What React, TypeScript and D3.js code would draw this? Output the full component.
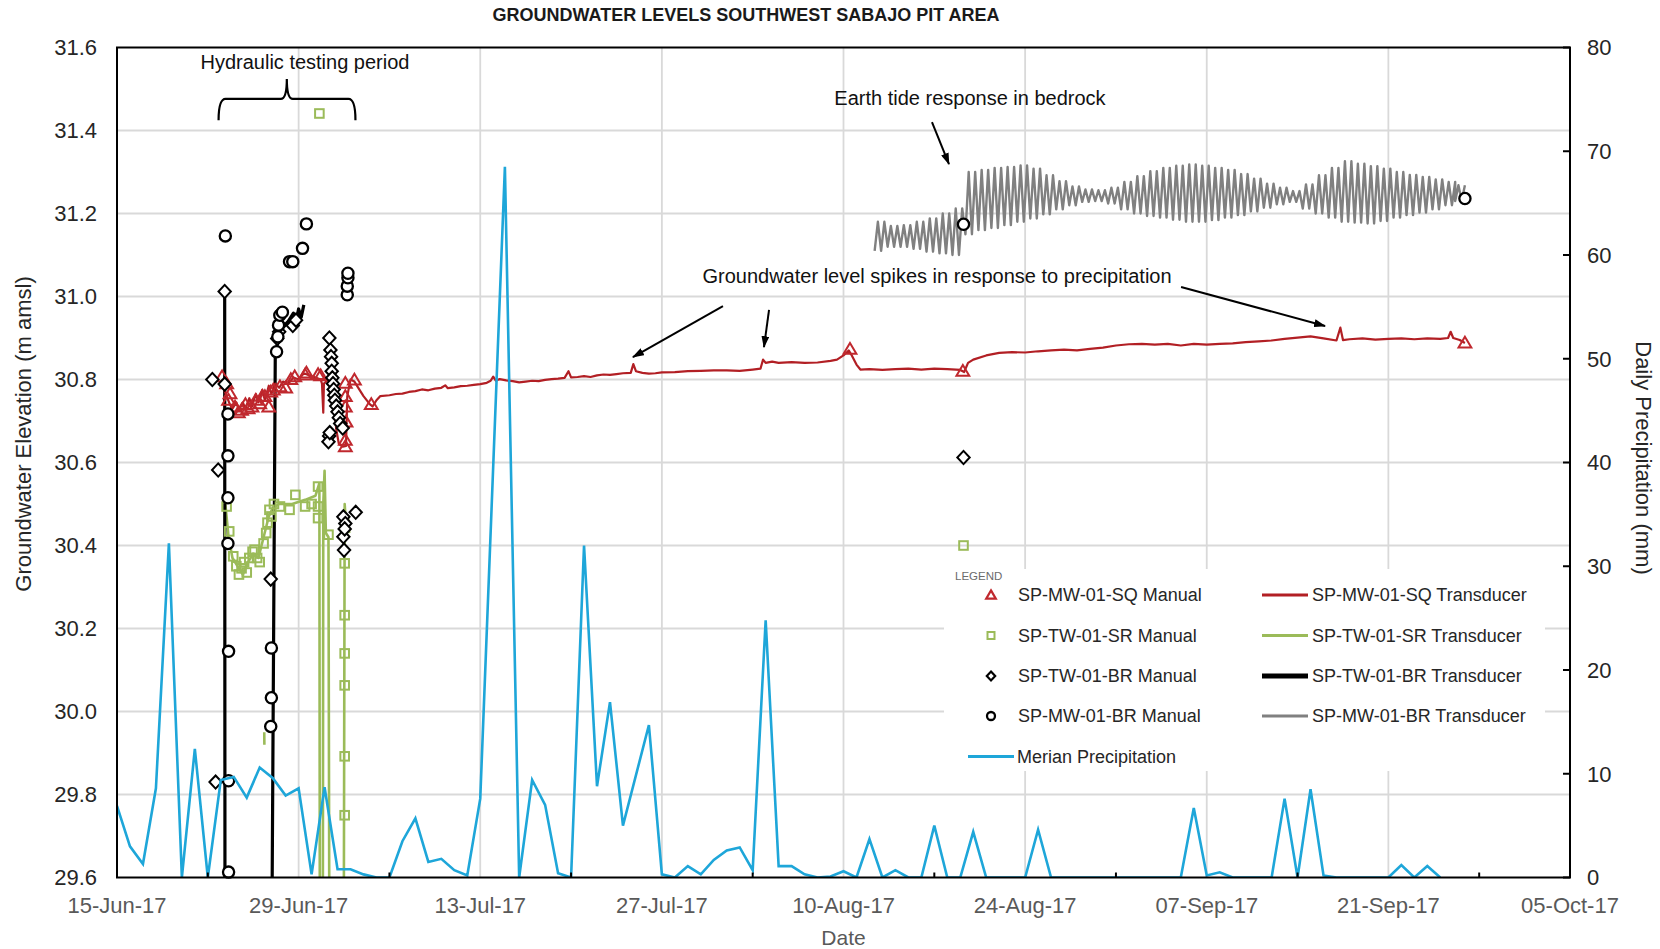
import React from "react";
import * as d3 from "d3";

const W = 1660;
const H = 949;
const M = { left: 117, right: 1570, top: 47.5, bottom: 877.5 };
const FONT = "'Liberation Sans', Arial, Helvetica, sans-serif";

const START = Date.UTC(2017, 5, 15);
const dt = (d: number) => new Date(START + d * 86400000);

// ---- axis / tick data ----
const dateTickLabels = ["15-Jun-17", "29-Jun-17", "13-Jul-17", "27-Jul-17", "10-Aug-17", "24-Aug-17", "07-Sep-17", "21-Sep-17", "05-Oct-17"];
const dateTickDays = [0, 14, 28, 42, 56, 70, 84, 98, 112];
const minorTickDays = [7, 21, 35, 49, 63, 77, 91, 105];
const leftTicks = [29.6, 29.8, 30.0, 30.2, 30.4, 30.6, 30.8, 31.0, 31.2, 31.4, 31.6];
const rightTicks = [0, 10, 20, 30, 40, 50, 60, 70, 80];

// ---- series (day offset from 15-Jun-17, value) ----
const precipitation: [number, number][] = [
  [0, 6.9], [1, 3.0], [2, 1.3], [3, 8.6], [4, 32.2], [5, 0], [6, 12.4], [7, 0], [8, 9.4], [9, 9.7],
  [10, 7.7], [11, 10.6], [12, 9.6], [13, 7.9], [14, 8.6], [15, 0.3], [16, 8.7], [17, 0.8], [18, 0.8], [19, 0.3],
  [20, 0], [21, 0], [22, 3.5], [23, 5.7], [24, 1.5], [25, 1.8], [26, 0.7], [27, 0.2], [28, 7.6], [29.9, 68.5],
  [31, 0], [32, 9.4], [33, 7.0], [34, 0.4], [35, 0], [36, 32.0], [37, 8.8], [38, 16.9], [39, 5.0], [41, 14.7],
  [42, 0.3], [43, 0], [44, 1.1], [45, 0.3], [46, 1.7], [47, 2.6], [48, 2.9], [49, 0.7], [50, 24.8], [51, 1.1],
  [52, 1.1], [53, 0.3], [54, 0], [55, 0.1], [56, 0.6], [57, 0], [58, 3.7], [59, 0], [60, 0.7], [61, 0],
  [62, 0], [63, 5.0], [64, 0], [65, 0], [66, 4.4], [67, 0], [68, 0], [69, 0], [70, 0], [71, 4.6],
  [72, 0], [73, 0], [74, 0], [75, 0], [76, 0], [77, 0], [78, 0], [79, 0], [80, 0], [81, 0],
  [82, 0], [83, 6.7], [84, 0.2], [85, 0.5], [86, 0], [87, 0], [88, 0], [89, 0], [90, 7.6], [91, 0],
  [92, 8.5], [93, 0.2], [94, 0], [95, 0], [96, 0], [97, 0], [98, 0], [99, 1.2], [100, 0], [101, 1.1], [102, 0],
];

const sqTransducer: [number, number][] = [
  [8.1, 30.8], [8.2, 30.78], [8.45, 30.76], [8.7, 30.74], [8.9, 30.73], [9.2, 30.745], [9.4, 30.725], [9.7, 30.745],
  [9.9, 30.73], [10.2, 30.755], [10.4, 30.735], [10.7, 30.765], [10.9, 30.745], [11.2, 30.775], [11.4, 30.75],
  [11.7, 30.785], [11.9, 30.765], [12.2, 30.79], [12.5, 30.78], [12.8, 30.795], [13.2, 30.79], [13.6, 30.805],
  [14.0, 30.8], [14.4, 30.815], [14.8, 30.81], [15.3, 30.805], [15.7, 30.8], [15.8, 30.79], [15.9, 30.72],
  [15.95, 30.79], [16.3, 30.8], [16.5, 30.795], [16.7, 30.75], [16.9, 30.68], [17.1, 30.645], [17.4, 30.638],
  [17.65, 30.64], [17.75, 30.76], [18.0, 30.8], [18.3, 30.795], [18.6, 30.78], [19.0, 30.76], [19.5, 30.74],
  [19.7, 30.735], [20.0, 30.75], [20.3, 30.76], [21, 30.762], [21.5, 30.765], [22, 30.766], [22.5, 30.77],
  [23, 30.772], [23.5, 30.776], [24, 30.774], [24.5, 30.778], [25, 30.78], [25.3, 30.786], [25.5, 30.779],
  [26, 30.781], [26.5, 30.784], [27, 30.785], [27.5, 30.787], [28, 30.789], [28.5, 30.792], [28.8, 30.797],
  [29.0, 30.807], [29.2, 30.797], [29.5, 30.801], [30, 30.798], [30.5, 30.796], [31, 30.793], [31.5, 30.795],
  [32, 30.797], [32.5, 30.796], [33, 30.799], [33.5, 30.801], [34, 30.802], [34.5, 30.804], [34.8, 30.82],
  [35, 30.805], [35.5, 30.806], [36, 30.808], [36.5, 30.806], [37, 30.81], [37.5, 30.812], [38, 30.811],
  [38.5, 30.813], [39, 30.815], [39.6, 30.816], [39.8, 30.837], [40.0, 30.82], [40.5, 30.816], [41, 30.814],
  [41.5, 30.815], [42, 30.817], [43, 30.818], [44, 30.82], [45, 30.821], [46, 30.822], [47, 30.822],
  [48, 30.821], [49, 30.824], [49.6, 30.826], [49.8, 30.848], [50, 30.84], [50.5, 30.843], [51, 30.84],
  [52, 30.842], [53, 30.84], [54, 30.841], [55, 30.845], [55.5, 30.848], [56, 30.858], [56.4, 30.87],
  [56.6, 30.86], [57, 30.836], [57.3, 30.824], [58, 30.825], [59, 30.823], [60, 30.825], [61, 30.826],
  [62, 30.824], [63, 30.826], [64, 30.825], [65, 30.823], [65.3, 30.818], [65.6, 30.84], [66, 30.848],
  [67, 30.858], [68, 30.864], [69, 30.866], [70, 30.865], [71, 30.868], [72, 30.87], [73, 30.872], [74, 30.87],
  [75, 30.874], [76, 30.877], [77, 30.882], [78, 30.885], [79, 30.886], [80, 30.884], [81, 30.886],
  [82, 30.882], [83, 30.886], [84, 30.884], [85, 30.886], [86, 30.887], [87, 30.89], [88, 30.892],
  [89, 30.894], [90, 30.898], [91, 30.901], [92, 30.904], [93, 30.899], [94, 30.894], [94.3, 30.925],
  [94.5, 30.895], [95, 30.897], [96, 30.899], [97, 30.896], [98, 30.898], [99, 30.899], [100, 30.897],
  [101, 30.899], [102, 30.898], [102.6, 30.9], [102.8, 30.915], [103, 30.9], [103.5, 30.895], [103.9, 30.888],
];

// NaN entries break the line; values below 29.6 are off the chart (clipped)
const srTransducer: [number, number][] = [
  [8.35, 30.5], [8.6, 30.42], [8.9, 30.37], [9.3, 30.35], [9.7, 30.33], [10.1, 30.36], [10.5, 30.38],
  [10.9, 30.37], [11.3, 30.42], [11.7, 30.47], [12.0, 30.49], [12.5, 30.5], [13.5, 30.5], [14.5, 30.51],
  [15.3, 30.52], [15.6, 30.55], [15.65, 29.0], [15.85, 29.0], [15.9, 30.5], [16.0, 30.58], [16.1, 30.43],
  [16.3, 30.42], [16.4, 29.0], [17.45, 29.0], [17.55, 30.5], [17.65, 30.45], [17.8, 30.47], [17.9, 30.43],
  [NaN, NaN], [11.35, 29.95], [11.36, 29.92],
];

const twBrTransducer: [number, number][] = [
  [8.3, 31.01], [8.33, 29.0], [11.85, 29.0], [12.2, 30.86], [12.6, 30.92], [13.2, 30.94], [13.6, 30.96],
  [13.8, 30.94], [14.0, 30.97], [14.2, 30.95], [14.4, 30.98],
];

// earth-tide envelope: [day, daily high, daily low]
const mwBrTide: [number, number, number][] = [
  [58.4, 31.18, 31.11], [59.4, 31.17, 31.12], [60.4, 31.172, 31.12], [61.4, 31.18, 31.115], [62.4, 31.188, 31.108],
  [63.4, 31.2, 31.104], [64.4, 31.212, 31.1], [65.4, 31.3, 31.15], [66.4, 31.305, 31.16], [67.4, 31.31, 31.165],
  [68.4, 31.312, 31.172], [69.4, 31.316, 31.18], [70.4, 31.308, 31.188], [71.4, 31.292, 31.198], [72.4, 31.278, 31.21],
  [73.4, 31.265, 31.22], [74.4, 31.258, 31.228], [75.4, 31.256, 31.23], [76.4, 31.262, 31.224], [77.4, 31.276, 31.21],
  [78.4, 31.29, 31.2], [79.4, 31.302, 31.194], [80.4, 31.31, 31.19], [81.4, 31.315, 31.185], [82.4, 31.318, 31.18],
  [83.4, 31.315, 31.18], [84.4, 31.31, 31.184], [85.4, 31.305, 31.19], [86.4, 31.295, 31.196], [87.4, 31.284, 31.205],
  [88.4, 31.272, 31.214], [89.4, 31.262, 31.222], [90.4, 31.254, 31.228], [91.4, 31.27, 31.212], [92.4, 31.292, 31.2],
  [93.4, 31.31, 31.19], [94.4, 31.326, 31.18], [95.4, 31.32, 31.178], [96.4, 31.314, 31.176], [97.4, 31.308, 31.182],
  [98.4, 31.3, 31.19], [99.4, 31.293, 31.196], [100.4, 31.288, 31.202], [101.4, 31.282, 31.21], [102.4, 31.276, 31.22],
  [103.15, 31.268, 31.23],
];

const sqManual: [number, number][] = [
  [8.1, 30.807], [8.45, 30.79], [8.6, 30.75], [8.71, 30.766], [9.1, 30.734], [9.35, 30.72], [9.6, 30.726],
  [9.9, 30.74], [10.1, 30.73], [10.4, 30.734], [10.7, 30.75], [11.0, 30.742], [11.2, 30.76], [11.4, 30.759],
  [11.7, 30.734], [11.85, 30.77], [12.05, 30.775], [12.56, 30.783], [13.0, 30.78], [13.4, 30.8], [13.7, 30.807],
  [14.5, 30.811], [14.6, 30.816], [15.5, 30.812], [15.7, 30.809], [17.6, 30.791], [17.6, 30.759], [17.6, 30.734],
  [17.65, 30.698], [17.6, 30.654], [17.6, 30.638], [18.3, 30.799], [19.6, 30.74], [56.5, 30.873], [65.2, 30.82],
  [103.9, 30.888],
];

const srManual: [number, number][] = [
  [8.45, 30.494], [8.65, 30.434], [8.96, 30.374], [9.2, 30.35], [9.4, 30.33], [9.6, 30.345], [9.8, 30.36],
  [10.0, 30.335], [10.2, 30.37], [10.45, 30.385], [10.6, 30.39], [10.8, 30.37], [11.0, 30.36], [11.3, 30.405],
  [11.5, 30.43], [11.6, 30.455], [11.75, 30.486], [11.9, 30.47], [12.1, 30.5], [12.56, 30.494], [13.3, 30.486],
  [13.75, 30.522], [14.5, 30.494], [15.0, 30.5], [15.5, 30.542], [15.5, 30.494], [15.5, 30.466], [15.6, 31.441],
  [16.3, 30.426], [17.55, 30.357], [17.55, 30.232], [17.55, 30.14], [17.55, 30.063], [17.55, 29.892],
  [17.55, 29.75], [65.25, 30.4],
];

const twBrManual: [number, number][] = [
  [7.35, 30.8], [8.3, 31.012], [8.3, 30.789], [7.8, 30.582], [7.6, 29.83], [11.85, 30.319], [12.35, 30.899],
  [12.5, 30.915], [12.55, 30.931], [13.55, 30.93], [13.8, 30.943], [16.37, 30.9], [16.45, 30.871], [16.5, 30.855],
  [16.55, 30.839], [16.55, 30.82], [16.6, 30.804], [16.65, 30.79], [16.7, 30.776], [16.75, 30.762], [16.8, 30.75],
  [16.9, 30.736], [17.0, 30.722], [17.1, 30.708], [17.2, 30.694], [17.4, 30.683], [16.35, 30.664], [16.3, 30.65],
  [16.4, 30.672], [17.45, 30.469], [17.6, 30.453], [18.4, 30.48], [17.45, 30.421], [17.5, 30.389], [17.55, 30.44],
  [65.25, 30.612],
];

const mwBrManual: [number, number][] = [
  [8.35, 31.146], [8.55, 30.717], [8.55, 30.616], [8.55, 30.515], [8.55, 30.405], [8.6, 30.145], [8.6, 29.833],
  [8.6, 29.613], [11.9, 30.153], [11.9, 30.033], [11.85, 29.964], [12.3, 30.867], [12.4, 30.903], [12.45, 30.931],
  [12.55, 30.955], [12.75, 30.962], [13.3, 31.084], [13.55, 31.084], [14.3, 31.116], [14.6, 31.175],
  [17.75, 31.004], [17.75, 31.025], [17.8, 31.045], [17.8, 31.056], [65.25, 31.174], [103.9, 31.236],
];

const legendManual = ["SP-MW-01-SQ Manual", "SP-TW-01-SR Manual", "SP-TW-01-BR Manual", "SP-MW-01-BR Manual"];
const legendTransducer = ["SP-MW-01-SQ Transducer", "SP-TW-01-SR Transducer", "SP-TW-01-BR Transducer", "SP-MW-01-BR Transducer"];

const C = {
  sq: "#b21f24",
  sqMark: "#c0282e",
  sr: "#9bbb59",
  tw: "#000000",
  mw: "#808080",
  pr: "#1ea6d9",
  grid: "#d9d9d9",
};

const TRI = "M0,-6.2 L6.4,4.6 L-6.4,4.6 Z";
const DIA = "M0,-6.6 L6.2,0 L0,6.6 L-6.2,0 Z";

export default function App() {
  const x = d3.scaleUtc().domain([dt(0), dt(112)]).range([M.left, M.right]);
  const y = d3.scaleLinear().domain([29.6, 31.6]).range([M.bottom, M.top]);
  const y2 = d3.scaleLinear().domain([0, 80]).range([M.bottom, M.top]);
  const X = (d: number) => x(dt(d));

  const gwLine = d3
    .line<[number, number]>()
    .defined((p) => !isNaN(p[1]))
    .x((p) => X(p[0]))
    .y((p) => y(p[1]));
  const prLine = d3
    .line<[number, number]>()
    .x((p) => X(p[0]))
    .y((p) => y2(p[1]));

  const tidePts: [number, number][] = [];
  mwBrTide.forEach(([d, hi, lo]) => {
    tidePts.push([d, lo], [d + 0.25, hi], [d + 0.5, lo], [d + 0.75, hi]);
  });

  // annotations in data space
  const bx0 = X(7.83), bx1 = X(18.38), bxc = X(13.09);
  const byTop = y(31.476), byEnd = y(31.425), byPeak = y(31.524);
  const brace = `M${bx0},${byEnd} Q${bx0},${byTop} ${bx0 + 7},${byTop} L${bxc - 6},${byTop} Q${bxc},${byTop} ${bxc},${byPeak} Q${bxc},${byTop} ${bxc + 6},${byTop} L${bx1 - 7},${byTop} Q${bx1},${byTop} ${bx1},${byEnd}`;

  const arrows: [number, number, number, number][] = [
    [62.82, 31.42, 64.13, 31.319],
    [46.71, 30.977, 39.77, 30.854],
    [50.26, 30.968, 49.87, 30.878],
    [82.02, 31.023, 93.12, 30.929],
  ];

  const LG = { x0: 944, y0: 569, x1: 1545, y1: 771 };
  const rowY = [595, 635.5, 676, 716, 756.5];

  return (
    <svg
      width={W}
      height={H}
      style={{ position: "absolute", left: 0, top: 0, background: "#fff" }}
      fontFamily={FONT}
    >
      <defs>
        <clipPath id="plot">
          <rect x={M.left} y={M.top} width={M.right - M.left} height={M.bottom - M.top} />
        </clipPath>
        <marker id="arr" viewBox="0 0 12 8" refX="11" refY="4" markerWidth="6" markerHeight="4" orient="auto">
          <path d="M0,0 L12,4 L0,8 Z" fill="#000" />
        </marker>
      </defs>
      <rect width={W} height={H} fill="#fff" />

      {/* gridlines */}
      {leftTicks.slice(1, -1).map((v) => (
        <line key={"h" + v} x1={M.left} x2={M.right} y1={y(v)} y2={y(v)} stroke={C.grid} strokeWidth={1.8} />
      ))}
      {dateTickDays.slice(1, -1).map((d) => (
        <line key={"v" + d} x1={X(d)} x2={X(d)} y1={M.top} y2={M.bottom} stroke={C.grid} strokeWidth={1.8} />
      ))}

      {/* legend background */}
      <rect x={LG.x0} y={LG.y0} width={LG.x1 - LG.x0} height={LG.y1 - LG.y0} fill="#fff" />

      {/* transducer lines */}
      <g clipPath="url(#plot)" fill="none" strokeLinejoin="round">
        <path d={gwLine(srTransducer) || ""} stroke={C.sr} strokeWidth={2.6} />
        <path d={gwLine(twBrTransducer) || ""} stroke={C.tw} strokeWidth={3.2} />
        <path d={gwLine(sqTransducer) || ""} stroke={C.sq} strokeWidth={2.2} />
        <path d={gwLine(tidePts) || ""} stroke={C.mw} strokeWidth={2.4} />
      </g>

      {/* manual markers */}
      <g fill="none">
        {srManual.map((p, i) => (
          <rect key={"s" + i} x={X(p[0]) - 4.3} y={y(p[1]) - 4.3} width={8.6} height={8.6} stroke={C.sr} strokeWidth={2} fill="#fff" fillOpacity={0} />
        ))}
        {sqManual.map((p, i) => (
          <path key={"t" + i} d={TRI} transform={`translate(${X(p[0])},${y(p[1])})`} stroke={C.sqMark} strokeWidth={2} />
        ))}
        {twBrManual.map((p, i) => (
          <path key={"d" + i} d={DIA} transform={`translate(${X(p[0])},${y(p[1])})`} stroke="#000" strokeWidth={2} fill="#fff" />
        ))}
        {mwBrManual.map((p, i) => (
          <circle key={"c" + i} cx={X(p[0])} cy={y(p[1])} r={5.6} stroke="#000" strokeWidth={2.3} fill="#fff" />
        ))}
      </g>

      {/* precipitation (secondary axis) */}
      <g clipPath="url(#plot)">
        <path d={prLine(precipitation) || ""} fill="none" stroke={C.pr} strokeWidth={2.6} strokeLinejoin="miter" />
      </g>

      {/* frame */}
      <rect x={M.left} y={M.top} width={M.right - M.left} height={M.bottom - M.top} fill="none" stroke="#000" strokeWidth={2} />
      {minorTickDays.map((d) => (
        <line key={"m" + d} x1={X(d)} x2={X(d)} y1={M.bottom} y2={M.bottom - 5} stroke="#000" strokeWidth={2} />
      ))}
      {rightTicks.map((v) => (
        <line key={"r" + v} x1={M.right} x2={M.right - 7} y1={y2(v)} y2={y2(v)} stroke="#000" strokeWidth={2} />
      ))}

      {/* tick labels */}
      {leftTicks.map((v) => (
        <text key={"lt" + v} x={97} y={y(v)} dy="0.36em" textAnchor="end" fontSize={22} fill="#262626">
          {d3.format(".1f")(v)}
        </text>
      ))}
      {rightTicks.map((v) => (
        <text key={"rt" + v} x={1587} y={y2(v)} dy="0.36em" textAnchor="start" fontSize={22} fill="#262626">
          {v}
        </text>
      ))}
      {dateTickDays.map((d, i) => (
        <text key={"dt" + d} x={X(d)} y={913} textAnchor="middle" fontSize={22} fill="#595959">
          {dateTickLabels[i]}
        </text>
      ))}

      {/* axis titles */}
      <text x={(M.left + M.right) / 2} y={945} textAnchor="middle" fontSize={21} fill="#595959">
        Date
      </text>
      <text transform="translate(23,434) rotate(-90)" textAnchor="middle" dy="0.35em" fontSize={22} fill="#262626">
        Groundwater Elevation (m amsl)
      </text>
      <text transform="translate(1644,458) rotate(90)" textAnchor="middle" dy="0.35em" fontSize={22} fill="#262626">
        Daily Precipitation (mm)
      </text>
      <text x={746} y={20.5} textAnchor="middle" fontSize={18} fontWeight="bold" fill="#1a1a1a">
        GROUNDWATER LEVELS SOUTHWEST SABAJO PIT AREA
      </text>

      {/* legend */}
      <g>
        <text x={955} y={580} fontSize={11.5} fill="#6b6b6b">LEGEND</text>
        <path d="M0,-4.6 L4.8,3.6 L-4.8,3.6 Z" transform={`translate(991,${rowY[0]})`} fill="none" stroke={C.sqMark} strokeWidth={2.2} />
        <rect x={987.5} y={rowY[1] - 3.5} width={7} height={7} fill="none" stroke={C.sr} strokeWidth={2} />
        <path d="M0,-4.5 L4.2,0 L0,4.5 L-4.2,0 Z" transform={`translate(991,${rowY[2]})`} fill="none" stroke="#000" strokeWidth={2.2} />
        <circle cx={991} cy={rowY[3]} r={4} fill="none" stroke="#000" strokeWidth={2.3} />
        {legendManual.map((t, i) => (
          <text key={"lm" + i} x={1018} y={rowY[i]} dy="0.36em" fontSize={18} fill="#262626">
            {t}
          </text>
        ))}
        <line x1={1262} x2={1308} y1={rowY[0]} y2={rowY[0]} stroke={C.sq} strokeWidth={3} />
        <line x1={1262} x2={1308} y1={rowY[1]} y2={rowY[1]} stroke={C.sr} strokeWidth={3} />
        <line x1={1262} x2={1308} y1={rowY[2]} y2={rowY[2]} stroke={C.tw} strokeWidth={5} />
        <line x1={1262} x2={1308} y1={rowY[3]} y2={rowY[3]} stroke={C.mw} strokeWidth={3} />
        {legendTransducer.map((t, i) => (
          <text key={"lt" + i} x={1312} y={rowY[i]} dy="0.36em" fontSize={18} fill="#262626">
            {t}
          </text>
        ))}
        <line x1={968} x2={1014} y1={rowY[4]} y2={rowY[4]} stroke={C.pr} strokeWidth={3} />
        <text x={1017} y={rowY[4]} dy="0.36em" fontSize={18} fill="#262626">
          Merian Precipitation
        </text>
      </g>

      {/* annotations */}
      <path d={brace} fill="none" stroke="#000" strokeWidth={2.2} />
      <text x={X(14.49)} y={y(31.548)} textAnchor="middle" fontSize={20} fill="#111">
        Hydraulic testing period
      </text>
      <text x={X(65.75)} y={y(31.461)} textAnchor="middle" fontSize={20} fill="#111">
        Earth tide response in bedrock
      </text>
      <text x={X(63.21)} y={y(31.032)} textAnchor="middle" fontSize={20} fill="#111">
        Groundwater level spikes in response to precipitation
      </text>
      {arrows.map((a, i) => (
        <line key={"a" + i} x1={X(a[0])} y1={y(a[1])} x2={X(a[2])} y2={y(a[3])} stroke="#000" strokeWidth={2} markerEnd="url(#arr)" />
      ))}
    </svg>
  );
}
